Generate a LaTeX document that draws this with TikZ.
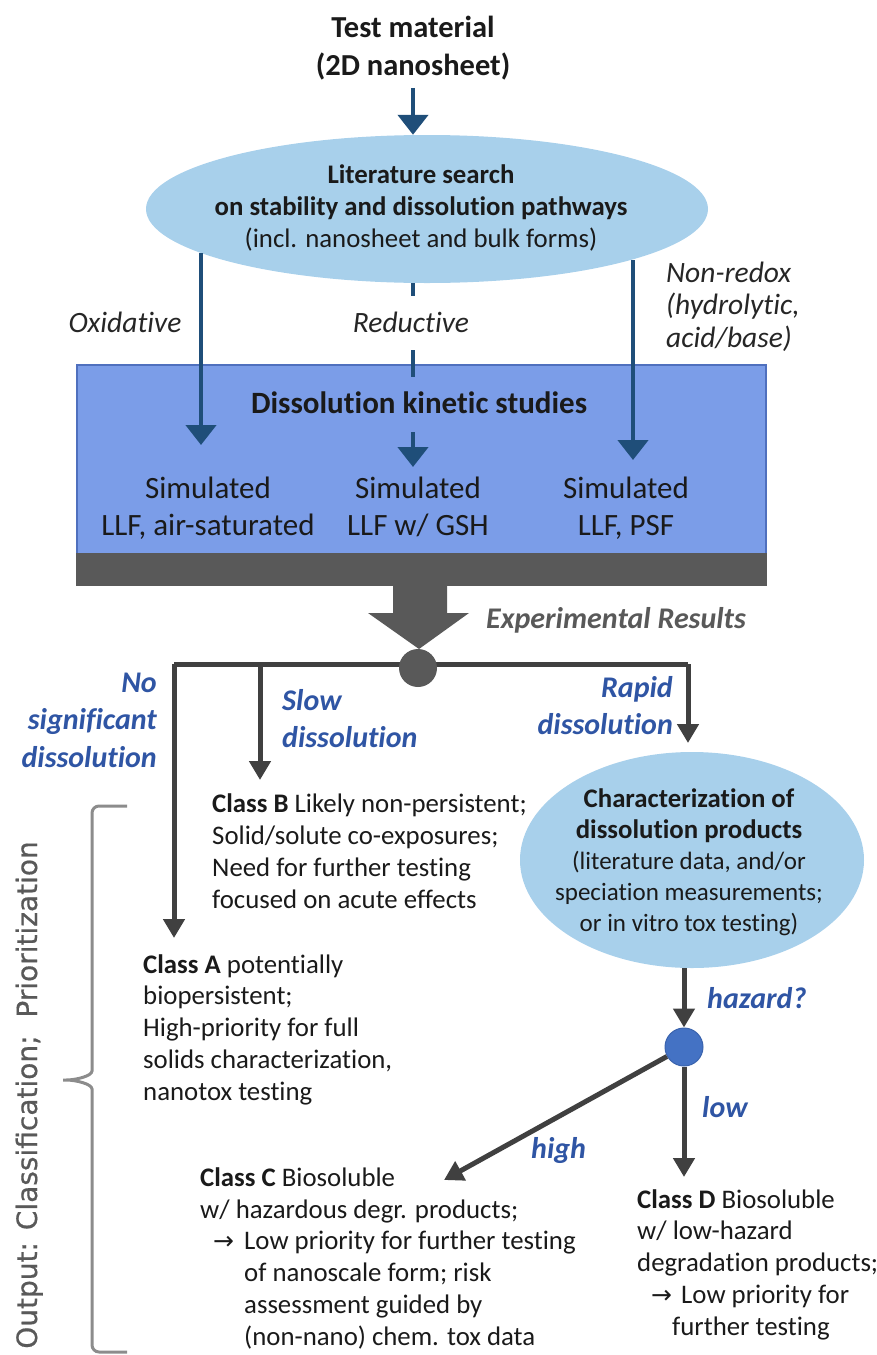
\documentclass[tikz,border=0pt]{standalone}
\usepackage{fontspec}
\setmainfont{Carlito}[Ligatures={NoCommon}]
\newfontfamily\symf{DejaVu Sans}
\newfontfamily\vfont{DejaVu Sans}[FakeBold=0.6]
\usetikzlibrary{arrows.meta,shapes.geometric}
\definecolor{dkblue}{HTML}{1F4E79}
\definecolor{litblue}{HTML}{A8D0EB}
\definecolor{boxblue}{HTML}{7B9DE8}
\definecolor{boxedge}{HTML}{4F70BE}
\definecolor{bargray}{HTML}{595959}
\definecolor{dkgray}{HTML}{404040}
\definecolor{lblblue}{HTML}{2F55A4}
\definecolor{hzblue}{HTML}{4472C4}
\definecolor{hzedge}{HTML}{3A63AD}
\definecolor{brkgray}{HTML}{8C8C8C}
\definecolor{txt}{HTML}{1A1A1A}
\definecolor{txtgray}{HTML}{262626}
\newcommand{\arr}{{\symf\fontsize{25}{25}\selectfont →}}
\begin{document}
\begin{tikzpicture}[x=1pt,y=-1pt,
  darr/.style={draw=dkblue, line width=4.5pt, -{Triangle[width=30pt,length=20pt]}},
  garr/.style={draw=dkgray, line width=5pt, -{Triangle[width=21pt,length=19pt]}},
  lbl/.style={font=\itshape\fontsize{29.5}{32.5}\selectfont, text=txtgray, inner sep=0},
  blbl/.style={font=\bfseries\itshape\fontsize{30}{37.5}\selectfont, text=lblblue, inner sep=0},
  body/.style={font=\fontsize{26.8}{31.7}\selectfont, inner sep=0, align=left, anchor=base west, text=txt},
  sim/.style={font=\fontsize{31}{37}\selectfont, inner sep=0, align=center, anchor=base, text=txt}
]
\useasboundingbox (0,0) rectangle (877,1355);

% top (anchors = last baseline of multi-line nodes)
\node[font=\bfseries\fontsize{30.5}{38}\selectfont, align=center, anchor=base, inner sep=0, text=txt] (test) at (413,75) {Test material\\(2D nanosheet)};
\node[ellipse, fill=litblue, minimum width=562, minimum height=148, inner sep=0] (lit) at (427,209) {};
\node[align=center, anchor=base, font=\fontsize{26.8}{32}\selectfont, inner sep=0, text=txt] (littext) at (421,247)
  {\textbf{Literature search}\\\textbf{on stability and dissolution pathways}\\(incl. nanosheet and bulk forms)};
\draw[darr, shorten <=8pt] (test.south) -- (test.south |- lit.north);

% dissolution box
\node[draw=boxedge, fill=boxblue, line width=1.5pt, minimum width=689, minimum height=189, inner sep=0, anchor=north west] (box) at (76,364) {};
\node[fill=bargray, minimum width=691, minimum height=33, inner sep=0, anchor=north west] (bar) at (76,553) {};

\coordinate (oxT) at (201,445);
\coordinate (midT) at (413,467);
\coordinate (nrT) at (633,460);
\draw[darr] (oxT |- lit.191) -- (oxT);
\draw[darr] (nrT |- lit.346) -- (nrT);
\draw[darr, dash pattern=on 13pt off 54pt on 27pt off 55pt on 60pt] (midT |- lit.south) -- (midT);

\node[lbl, anchor=base] (ox) at (125,332) {Oxidative};
\node[lbl, anchor=base] (red) at (411,332) {Reductive};
\node[lbl, anchor=base west, align=left] (nr) at (666,347) {Non-redox\\(hydrolytic,\\acid/base)};

\node[font=\bfseries\fontsize{31}{36}\selectfont, anchor=base, inner sep=0, text=txt] (dks) at (419,413) {Dissolution kinetic studies};
\node[sim] (s1) at (208,535) {Simulated\\LLF, air-saturated};
\node[sim] (s2) at (418,535) {Simulated\\LLF w/ GSH};
\node[sim] (s3) at (626,535) {Simulated\\LLF, PSF};

% big arrow
\fill[bargray] (393,586) -- (447,586) -- (447,613) -- (469,613) -- (419,649) -- (368,613) -- (393,613) -- cycle;
\node[font=\bfseries\itshape\fontsize{30}{36}\selectfont, text=bargray, anchor=base west, inner sep=0] (exp) at (486,628) {Experimental Results};

% results split
\coordinate (barL) at (174,664);
\coordinate (barB) at (260,664);
\coordinate (barR) at (688,664);
\coordinate (aT) at (174,938);
\coordinate (bT) at (260,780);
\coordinate (cT) at (688,743);
\draw[dkgray, line width=5pt] (barL) -- (barR);
\draw[garr] (barL) -- (aT);
\draw[garr] (barB) -- (bT);
\draw[garr] (barR) -- (cT);
\node[circle, fill=bargray, minimum size=38, inner sep=0] (res) at (418,668) {};

\node[blbl, anchor=base east, align=right] (nosig) at (157,767) {No\\significant\\dissolution};
\node[blbl, anchor=base west, align=left] (slow) at (282,747.5) {Slow\\dissolution};
\node[blbl, anchor=base east, align=right] (rapid) at (673,734.5) {Rapid\\dissolution};

% classes A, B
\node[body] (clB) at (212,908) {\textbf{Class B} Likely non-persistent;\\Solid/solute co-exposures;\\Need for further testing\\focused on acute effects};
\node[body] (clA) at (143,1100) {\textbf{Class A} potentially\\biopersistent;\\High-priority for full\\solids characterization,\\nanotox testing};

% characterization
\node[ellipse, fill=litblue, minimum width=344, minimum height=216, inner sep=0] (char) at (692,860) {};
\node[align=center, anchor=base, inner sep=0, font=\fontsize{26.8}{31}\selectfont, text=txt] (chartext) at (689,931)
  {\textbf{Characterization of}\\\textbf{dissolution products}\\{\fontsize{25}{31}\selectfont(literature data, and/or}\\{\fontsize{25}{31}\selectfont speciation measurements;}\\{\fontsize{25}{31}\selectfont or in vitro tox testing)}};

% hazard
\node[circle, fill=hzblue, draw=hzedge, line width=1pt, minimum size=38, inner sep=0] (hz) at (684,1047) {};
\draw[garr] (hz.north |- char.south) -- (hz.north);
\coordinate (lowT) at (684,1177);
\coordinate (highT) at (444,1180);
\draw[garr] (hz.south) -- (lowT);
\draw[garr] (hz) -- (highT);
\node[blbl, anchor=base west] (haz) at (707,1008) {hazard?};
\node[blbl, anchor=base west] (low) at (702,1117) {low};
\node[blbl, anchor=base west] (high) at (531,1158) {high};

% classes C, D
\node[body] (clC) at (200,1345) {\textbf{Class C} Biosoluble\\w/ hazardous degr. products;\\\hspace*{13pt}\makebox[31pt][l]{\arr}Low priority for further testing\\\hspace*{44pt}of nanoscale form; risk\\\hspace*{44pt}assessment guided by\\\hspace*{44pt}(non-nano) chem. tox data};
\node[body] (clD) at (637,1335) {\textbf{Class D} Biosoluble\\w/ low-hazard\\degradation products;\\\hspace*{14pt}\makebox[30pt][l]{\arr}Low priority for\\\hspace*{35pt}further testing};

% output bracket
\draw[brkgray, line width=3pt, rounded corners=7pt] (127,806) -- (92,806) -- (92,1064)
  .. controls (92,1076) and (76,1080) .. (59,1080)
  .. controls (76,1080) and (92,1084) .. (92,1096) -- (92,1352) -- (127,1352);
\node[rotate=90, anchor=base, font=\vfont\fontsize{28}{28}\selectfont, text=bargray, inner sep=0] (out) at (37,1095) {Output: Classification;\ \ Prioritization};
\end{tikzpicture}
\end{document}
